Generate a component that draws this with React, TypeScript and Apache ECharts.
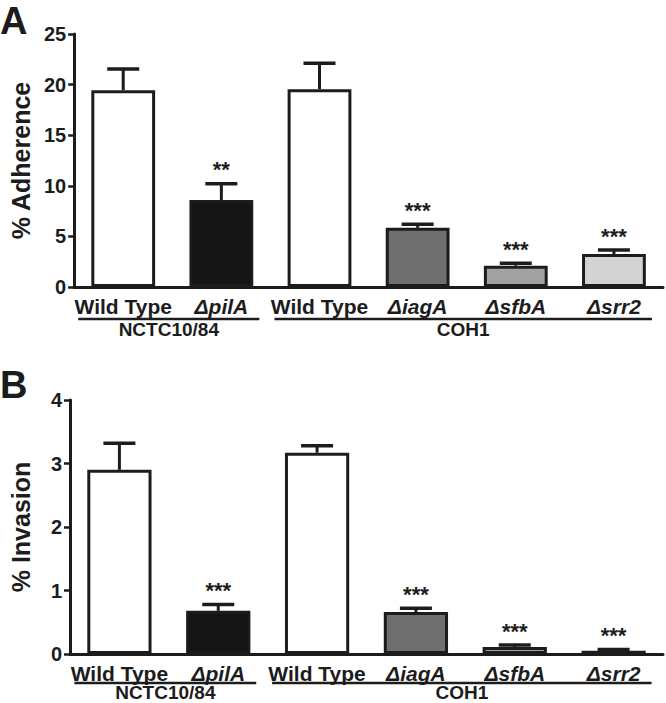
import React, { useEffect, useRef } from "react";
import * as echarts from "echarts";

const categories = ["Wild Type", "ΔpilA", "Wild Type", "ΔiagA", "ΔsfbA", "Δsrr2"];
const italicCats = [false, true, false, true, true, true];
const barColors = ["#ffffff", "#151515", "#ffffff", "#6f6f6f", "#a2a2a2", "#d3d3d3"];

const adherenceMean = [19.45, 8.6, 19.55, 5.85, 2.1, 3.25];
const adherenceErr = [2.1, 1.6, 2.55, 0.35, 0.25, 0.4];
const adherenceSig = ["", "**", "", "***", "***", "***"];

const invasionMean = [2.9, 0.68, 3.17, 0.66, 0.11, 0.05];
const invasionErr = [0.42, 0.1, 0.11, 0.06, 0.03, 0.02];
const invasionSig = ["", "***", "", "***", "***", "***"];

const adherenceTicks = { min: 0, max: 25, interval: 5 };
const invasionTicks = { min: 0, max: 4, interval: 1 };

const groupNames = ["NCTC10/84", "COH1"];
const groupStart = [0, 2];
const groupEnd = [1, 5];

const FONT = '"Liberation Sans", Arial, Helvetica, sans-serif';
const INK = "#1c1c1c";

// layout offsets (px below the x axis) per panel
const groupLineOffset = [32, 29];
const groupLabelOffset = [42, 38];

function errorSeries(axis: number, mean: number[], err: number[]) {
  return {
    type: "custom",
    xAxisIndex: axis,
    yAxisIndex: axis,
    z: 5,
    data: mean.map((m, i) => [i, m, err[i]]),
    renderItem: (params: any, api: any) => {
      const x = api.value(0);
      const m = api.value(1);
      const e = api.value(2);
      const p0 = api.coord([x, m]);
      const p1 = api.coord([x, m + e]);
      const half = 16;
      return {
        type: "group",
        children: [
          { type: "line", shape: { x1: p0[0], y1: p0[1], x2: p1[0], y2: p1[1] }, style: { stroke: INK, lineWidth: 3 } },
          { type: "line", shape: { x1: p1[0] - half, y1: p1[1], x2: p1[0] + half, y2: p1[1] }, style: { stroke: INK, lineWidth: 3.5 } },
        ],
      };
    },
  };
}

function starSeries(axis: number, mean: number[], err: number[], sig: string[]) {
  return {
    type: "custom",
    xAxisIndex: axis,
    yAxisIndex: axis,
    z: 6,
    data: mean.map((m, i) => [i, m + err[i], sig[i]]),
    renderItem: (params: any, api: any) => {
      const idx = params.dataIndex;
      const p = api.coord([api.value(0), api.value(1)]);
      return {
        type: "text",
        x: p[0],
        y: p[1] - 14,
        style: {
          text: sig[idx],
          fontSize: 22,
          fontWeight: "bold",
          fontFamily: FONT,
          fill: INK,
          align: "center",
          verticalAlign: "middle",
        },
      };
    },
  };
}

function xAxisFor(grid: number) {
  return {
    type: "category",
    gridIndex: grid,
    data: categories.map((c, i) => ({ value: c, textStyle: { fontStyle: italicCats[i] ? "italic" : "normal" } })),
    axisLine: { lineStyle: { color: INK, width: 3 } },
    axisTick: { alignWithLabel: true, length: 7, lineStyle: { color: INK, width: 2.5 } },
    axisLabel: { fontSize: 21, fontWeight: "bold", color: INK, margin: 9, fontFamily: FONT, interval: 0 },
    splitLine: { show: false },
  };
}

function yAxisFor(grid: number, ticks: any, name: string) {
  return {
    type: "value",
    gridIndex: grid,
    min: ticks.min,
    max: ticks.max,
    interval: ticks.interval,
    name,
    nameLocation: "middle",
    nameGap: 37,
    nameTextStyle: { fontSize: 25, fontWeight: "bold", color: INK, fontFamily: FONT },
    axisLine: { show: true, lineStyle: { color: INK, width: 3 } },
    axisTick: { show: true, length: 6, lineStyle: { color: INK, width: 2.5 } },
    axisLabel: { fontSize: 20, fontWeight: "bold", color: INK, margin: 8, fontFamily: FONT },
    splitLine: { show: false },
  };
}

function barSeries(axis: number, mean: number[]) {
  return {
    type: "bar",
    xAxisIndex: axis,
    yAxisIndex: axis,
    barWidth: "65%",
    data: mean.map((v, i) => ({ value: v, itemStyle: { color: barColors[i], borderColor: INK, borderWidth: 3 } })),
  };
}

export default function App() {
  const ref = useRef<HTMLDivElement>(null);
  useEffect(() => {
    if (!ref.current) return;
    const chart = echarts.init(ref.current, null, { renderer: "svg" });
    chart.setOption({
      animation: false,
      backgroundColor: "#ffffff",
      grid: [
        { left: 63, right: 3, top: 34, height: 253 },
        { left: 63, right: 3, top: 400, height: 254 },
      ],
      xAxis: [xAxisFor(0), xAxisFor(1)],
      yAxis: [yAxisFor(0, adherenceTicks, "% Adherence"), yAxisFor(1, invasionTicks, "% Invasion")],
      series: [
        barSeries(0, adherenceMean),
        errorSeries(0, adherenceMean, adherenceErr),
        starSeries(0, adherenceMean, adherenceErr, adherenceSig),
        barSeries(1, invasionMean),
        errorSeries(1, invasionMean, invasionErr),
        starSeries(1, invasionMean, invasionErr, invasionSig),
      ],
    });

    const graphics: any[] = [
      { type: "text", left: 0, top: 2, style: { text: "A", fontSize: 38, lineHeight: 30, fontWeight: "bold", fontFamily: FONT, fill: INK } },
      { type: "text", left: 0, top: 366, style: { text: "B", fontSize: 38, lineHeight: 30, fontWeight: "bold", fontFamily: FONT, fill: INK } },
    ];
    [0, 1].forEach((ax) => {
      const y0 = chart.convertToPixel({ yAxisIndex: ax }, 0) as number;
      groupNames.forEach((g, gi) => {
        const xs = chart.convertToPixel({ xAxisIndex: ax }, groupStart[gi]) as number;
        const xe = chart.convertToPixel({ xAxisIndex: ax }, groupEnd[gi]) as number;
        const x1 = xs - 45;
        const x2 = xe + 38;
        graphics.push({
          type: "line",
          shape: { x1, y1: y0 + groupLineOffset[ax], x2, y2: y0 + groupLineOffset[ax] },
          style: { stroke: INK, lineWidth: 2.5 },
        });
        graphics.push({
          type: "text",
          x: (x1 + x2) / 2,
          y: y0 + groupLabelOffset[ax],
          style: {
            text: g,
            fontSize: 19,
            fontWeight: "bold",
            fontFamily: FONT,
            fill: INK,
            align: "center",
            verticalAlign: "middle",
          },
        });
      });
    });
    chart.setOption({ graphic: graphics });
    return () => chart.dispose();
  }, []);
  return <div ref={ref} style={{ position: "absolute", left: 0, top: 0, width: 666, height: 703 }} />;
}
